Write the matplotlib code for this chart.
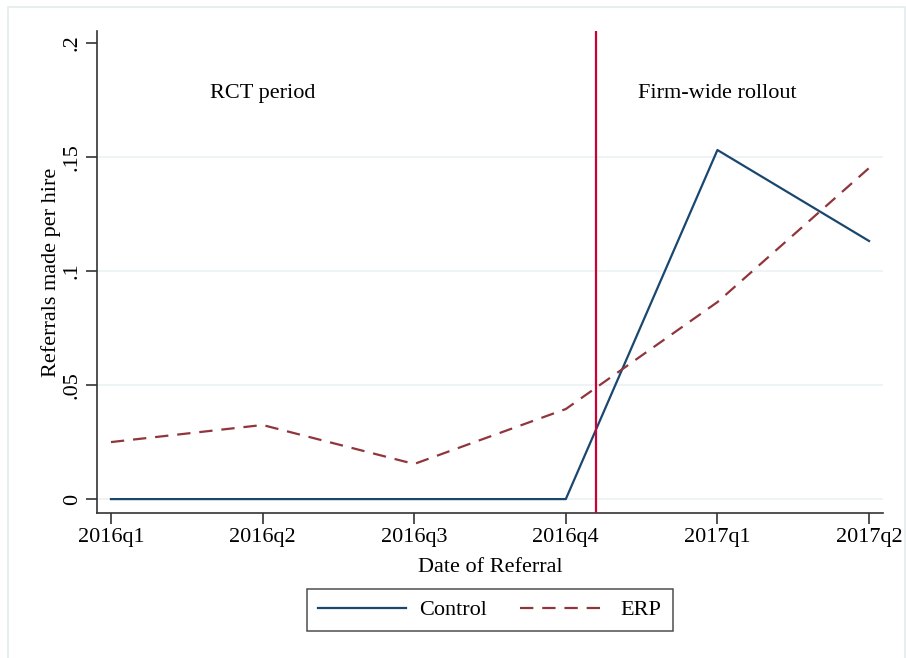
import matplotlib
matplotlib.use("Agg")
import matplotlib.pyplot as plt
from matplotlib.patches import Rectangle

plt.rcParams['font.family'] = ['Liberation Serif', 'DejaVu Serif']

quarters = ["2016q1", "2016q2", "2016q3", "2016q4", "2017q1", "2017q2"]
control = [0.0, 0.0, 0.0, 0.0, 0.1531, 0.1132]
erp = [0.025, 0.0325, 0.0154, 0.0395, 0.0864, 0.1452]
yticks = [0, 0.05, 0.10, 0.15, 0.20]
ytick_labels = ["0", ".05", ".1", ".15", ".2"]
grid_levels = [0, 0.05, 0.10, 0.15]
rollout_x = 3.2

W, H = 906, 658
fig = plt.figure(figsize=(W / 100, H / 100), dpi=100)
fig.patch.set_facecolor("white")

# light outer frame (open at the bottom edge of the canvas)
fig.patches.append(Rectangle((8 / W, -10 / H), (897) / W, (H + 3) / H,
                             transform=fig.transFigure, fill=False,
                             edgecolor="#e3ebee", linewidth=1.2))

ax = fig.add_axes([97 / W, (H - 513) / H, (883 - 97) / W, (513 - 31) / H])
x = list(range(len(quarters)))

for t in grid_levels:
    ax.axhline(t, color="#edf3f4", linewidth=1.3, zorder=0)

ax.plot(x, control, color="#1a476f", linewidth=1.6, label="Control", zorder=3)
ax.plot(x, erp, color="#90353b", linewidth=1.6, linestyle=(0, (6, 4)),
        label="ERP", zorder=3)
ax.axvline(rollout_x, color="#cc0033", linewidth=1.6, zorder=4)

ax.text(1, 0.1777, "RCT period", ha="center", va="center", fontsize=16)
ax.text(4, 0.1777, "Firm-wide rollout", ha="center", va="center", fontsize=16)

ax.set_xlim(-0.092, 5.092)
ax.set_ylim(-0.0061, 0.2053)
ax.set_xticks(x)
ax.set_xticklabels(quarters, fontsize=16)
ax.set_yticks(yticks)
ax.set_yticklabels(ytick_labels, fontsize=16, rotation=90, va="center")
ax.tick_params(axis="both", direction="out", length=8, width=1.1,
               color="#222222", pad=3)

for s in ["top", "right"]:
    ax.spines[s].set_visible(False)
for s in ["left", "bottom"]:
    ax.spines[s].set_color("#333333")
    ax.spines[s].set_linewidth(1.2)

ax.set_xlabel("Date of Referral", fontsize=16, labelpad=8)
ax.set_ylabel("Referrals made per hire", fontsize=16, labelpad=1)

leg = ax.legend(loc="upper center", bbox_to_anchor=(0.5, -0.157), ncol=2,
                fontsize=16, frameon=True, fancybox=False, handlelength=3.95,
                columnspacing=1.45, borderpad=0.5, handletextpad=0.6,
                borderaxespad=0)
leg.get_frame().set_edgecolor("#222222")
leg.get_frame().set_linewidth(1.1)

fig.savefig("out.png", dpi=100, facecolor="white")
